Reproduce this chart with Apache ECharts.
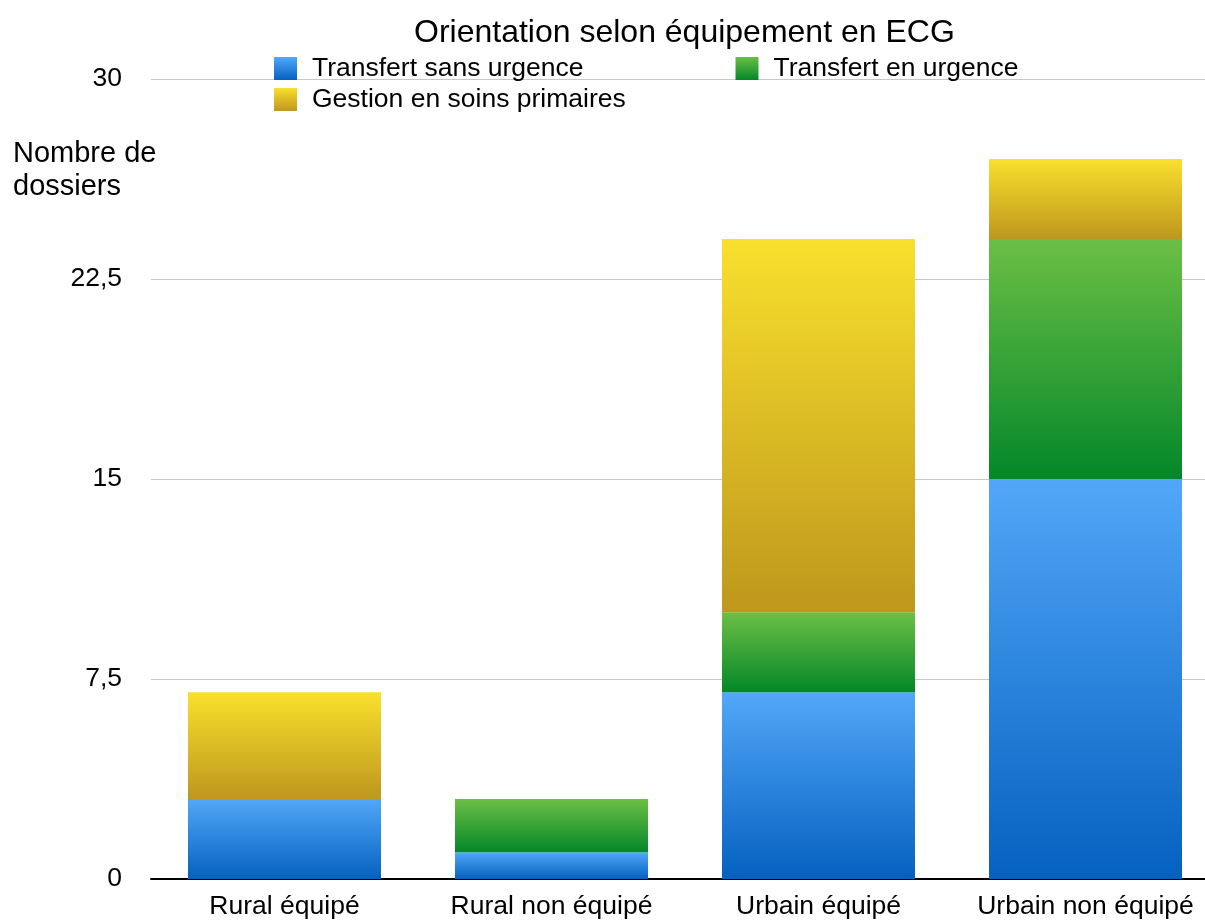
<!DOCTYPE html>
<html>
<head>
<meta charset="utf-8">
<script src="https://cdn.jsdelivr.net/npm/echarts@6/dist/echarts.min.js"></script>
<style>
html,body{margin:0;padding:0;background:#fff;overflow:hidden;}
#chart{width:1219px;height:920px;}
</style>
</head>
<body>
<div id="chart"></div>
<script>
var categories = ['Rural équipé', 'Rural non équipé', 'Urbain équipé', 'Urbain non équipé'];
var seriesNames = ['Transfert sans urgence', 'Transfert en urgence', 'Gestion en soins primaires'];
var transfertSansUrgence = [3, 1, 7, 15];
var transfertEnUrgence = [0, 2, 3, 9];
var gestionSoinsPrimaires = [4, 0, 14, 3];
var yTicks = [0, 7.5, 15, 22.5, 30];

var FONT = '"Liberation Sans", Arial, Helvetica, sans-serif';
function grad(top, bottom) {
  return new echarts.graphic.LinearGradient(0, 0, 0, 1, [
    { offset: 0, color: top },
    { offset: 1, color: bottom }
  ]);
}
var colors = [
  grad('#52A7F8', '#0561C0'),
  grad('#6CBF45', '#038729'),
  grad('#F9E02D', '#BE971D')
];
var values = [transfertSansUrgence, transfertEnUrgence, gestionSoinsPrimaires];

var chart = echarts.init(document.getElementById('chart'), null, { renderer: 'canvas' });
var legendCommon = {
  icon: 'rect', itemWidth: 23, itemHeight: 23, orient: 'horizontal', padding: 0,
  textStyle: { fontFamily: FONT, fontSize: 26.5, color: '#000', padding: [0, 0, 0, 10] },
  selectedMode: false
};
chart.setOption({
  backgroundColor: '#fff',
  animation: false,
  title: [
    { text: 'Orientation selon équipement en ECG', left: 409, top: 12,
      textStyle: { fontFamily: FONT, fontSize: 32, fontWeight: 'normal', color: '#000' } },
    { text: 'Nombre de\ndossiers', left: 8, top: 132,
      textStyle: { fontFamily: FONT, fontSize: 29, fontWeight: 'normal', color: '#000', lineHeight: 33 } }
  ],
  legend: [
    Object.assign({}, legendCommon, { data: [seriesNames[0], seriesNames[1]], left: 274, top: 55, itemGap: 152 }),
    Object.assign({}, legendCommon, { data: [seriesNames[2]], left: 274, top: 86 })
  ],
  grid: { left: 151, right: 0, top: 79, bottom: 38, containLabel: false },
  xAxis: {
    type: 'category',
    data: categories,
    axisLine: { show: true, lineStyle: { color: '#000', width: 2 } },
    axisTick: { show: false },
    axisLabel: { fontFamily: FONT, fontSize: 26.5, color: '#000', margin: 14, interval: 0 }
  },
  yAxis: {
    type: 'value',
    min: yTicks[0], max: yTicks[yTicks.length - 1], interval: yTicks[1] - yTicks[0],
    axisLine: { show: false },
    axisTick: { show: false },
    splitLine: { lineStyle: { color: '#C8C8C8', width: 1 } },
    axisLabel: { fontFamily: FONT, fontSize: 26.5, color: '#000', margin: 29, padding: [10, 0, 0, 0],
      formatter: function (v) { return String(v).replace('.', ','); } }
  },
  series: seriesNames.map(function (name, i) {
    return {
      name: name, type: 'bar', stack: 'total', barWidth: 193,
      data: values[i],
      itemStyle: { color: colors[i] },
      emphasis: { disabled: true }
    };
  })
});
</script>
</body>
</html>
